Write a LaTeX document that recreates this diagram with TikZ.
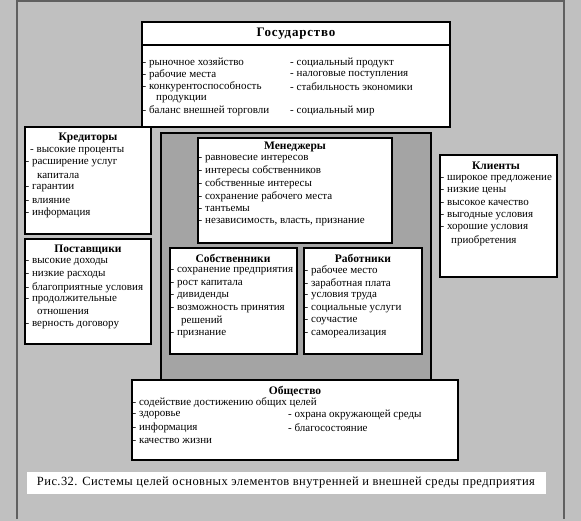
\documentclass[tikz,border=0pt]{standalone}
\usepackage{fontspec}
\setmainfont{Liberation Serif}
\definecolor{bg}{HTML}{C0C0C0}
\definecolor{inner}{HTML}{A4A4A4}
\definecolor{framec}{HTML}{606060}
\begin{document}
\begin{tikzpicture}[x=1pt,y=-1pt,
  box/.style={draw=black,line width=2.2pt,fill=white},
  t/.style={anchor=west,inner sep=0pt,font=\fontsize{11}{12}\selectfont},
  ttl/.style={anchor=center,inner sep=0pt,font=\fontsize{11.5}{13}\selectfont\bfseries}]
\fill[bg] (0,0) rectangle (581,521);
\useasboundingbox (0,0) rectangle (581,521);
\draw[framec,line width=2pt] (17,519) -- (17,1) -- (564,1) -- (564,519);
% Gosudarstvo
\draw[box] (142,22) rectangle (450,127);
\draw[line width=2.2pt] (142,45) -- (450,45);
\node[ttl,font=\fontsize{13}{14}\selectfont\bfseries\addfontfeature{LetterSpace=6}] (g0) at (296,34) {Государство};
\node[t] (g1) at (142.5,63) {- рыночное хозяйство};
\node[t] (g2) at (142.5,75) {- рабочие места};
\node[t] (g3) at (142.5,87) {- конкурентоспособность};
\node[t] (g4) at (156,99) {продукции};
\node[t] (g5) at (142.5,111) {- баланс внешней торговли};
\node[t] (g6) at (290,63) {- социальный продукт};
\node[t] (g7) at (290,75) {- налоговые поступления};
\node[t] (g8) at (290,87) {- стабильность экономики};
\node[t] (g9) at (290,111) {- социальный мир};
% Kreditory
\draw[box] (25,127) rectangle (151,234);
\node[ttl] (k0) at (88,138) {Кредиторы};
\node[t] (k1) at (30,151) {- высокие проценты};
\node[t] (k2) at (25.5,163) {- расширение услуг};
\node[t] (k3) at (37,176) {капитала};
\node[t] (k4) at (25.5,188) {- гарантии};
\node[t] (k5) at (25.5,201) {- влияние};
\node[t] (k6) at (25.5,213) {- информация};
% Postavshchiki
\draw[box] (25,239) rectangle (151,344);
\node[ttl] (p0) at (88,250) {Поставщики};
\node[t] (p1) at (25.5,262) {- высокие доходы};
\node[t] (p2) at (25.5,275) {- низкие расходы};
\node[t] (p3) at (25.5,288) {- благоприятные условия};
\node[t] (p4) at (25.5,300) {- продолжительные};
\node[t] (p5) at (37,312) {отношения};
\node[t] (p6) at (25.5,325) {- верность договору};
% Klienty
\draw[box] (440,155) rectangle (557,277);
\node[ttl] (c0) at (496,166) {Клиенты};
\node[t] (c1) at (440.5,179) {- широкое предложение};
\node[t] (c2) at (440.5,191) {- низкие цены};
\node[t] (c3) at (440.5,203) {- высокое качество};
\node[t] (c4) at (440.5,216) {- выгодные условия};
\node[t] (c5) at (440.5,228) {- хорошие условия};
\node[t] (c6) at (451,241) {приобретения};
% inner gray box
\draw[line width=2.2pt,fill=inner] (161,133) rectangle (431,384);
% Menedzhery
\draw[box] (198,138) rectangle (392,243);
\node[ttl] (m0) at (295,147) {Менеджеры};
\node[t] (m1) at (198.5,159) {- равновесие интересов};
\node[t] (m2) at (198.5,171) {- интересы собственников};
\node[t] (m3) at (198.5,184) {- собственные интересы};
\node[t] (m4) at (198.5,197) {- сохранение рабочего места};
\node[t] (m5) at (198.5,209) {- тантьемы};
\node[t] (m6) at (198.5,222) {- независимость, власть, признание};
% Sobstvenniki
\draw[box] (170,248) rectangle (297,354);
\node[ttl] (s0) at (233,258) {Собственники};
\node[t] (s1) at (170.5,271) {- сохранение предприятия};
\node[t] (s2) at (170.5,284) {- рост капитала};
\node[t] (s3) at (170.5,296) {- дивиденды};
\node[t] (s4) at (170.5,309) {- возможность принятия};
\node[t] (s5) at (181,321) {решений};
\node[t] (s6) at (170.5,334) {- признание};
% Rabotniki
\draw[box] (304,248) rectangle (422,354);
\node[ttl] (r0) at (363,258) {Работники};
\node[t] (r1) at (304.5,271) {- рабочее место};
\node[t] (r2) at (304.5,284) {- заработная плата};
\node[t] (r3) at (304.5,296) {- условия труда};
\node[t] (r4) at (304.5,309) {- социальные услуги};
\node[t] (r5) at (304.5,321) {- соучастие};
\node[t] (r6) at (304.5,334) {- самореализация};
% Obshchestvo
\draw[box] (132,380) rectangle (458,460);
\node[ttl] (o0) at (295,391) {Общество};
\node[t] (o1) at (132.5,403) {- содействие достижению общих целей};
\node[t] (o2) at (132.5,415) {- здоровье};
\node[t] (o3) at (132.5,428) {- информация};
\node[t] (o4) at (132.5,441) {- качество жизни};
\node[t] (o5) at (288,415) {- охрана окружающей среды};
\node[t] (o6) at (288,428) {- благосостояние};
% caption
\fill[white] (27,472) rectangle (546,494);
\node[inner sep=0pt,font=\fontsize{12.5}{14}\selectfont\addfontfeature{LetterSpace=3.5}] (cap) at (286,483) {Рис.32. Системы целей основных элементов внутренней и внешней среды предприятия};
\end{tikzpicture}
\end{document}
